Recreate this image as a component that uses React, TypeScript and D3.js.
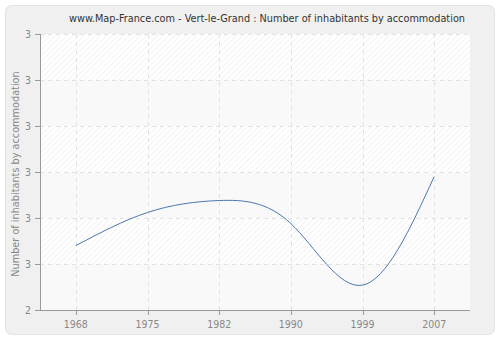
import React from "react";
import * as d3 from "d3";

const TITLE = "www.Map-France.com - Vert-le-Grand : Number of inhabitants by accommodation";
const Y_TITLE = "Number of inhabitants by accommodation";
const years = ["1968", "1975", "1982", "1990", "1999", "2007"];
const values = [2.54, 2.612, 2.638, 2.588, 2.454, 2.69];
const yTicks = [2.4, 2.5, 2.6, 2.7, 2.8, 2.9, 3.0];
const yTickLabels = ["2", "3", "3", "3", "3", "3", "3"];

const W = 500, H = 340;
const L = 40, R = 470, T = 34, B = 310;

export default function App() {
  const x = d3.scalePoint<string>().domain(years).range([L, R]).padding(0.5);
  const y = d3.scaleLinear().domain([2.4, 3.0]).range([B, T]);
  const line = d3
    .line<number>()
    .x((_, i) => x(years[i]) as number)
    .y((d) => y(d))
    .curve(d3.curveNatural);
  const font = "'DejaVu Sans Condensed', 'DejaVu Sans', sans-serif";
  return (
    <svg width={W} height={H} style={{ position: "absolute", left: 0, top: 0 }}>
      <defs>
        <pattern id="hatch" patternUnits="userSpaceOnUse" width="4" height="4" patternTransform="rotate(45)">
          <line x1="0" y1="0" x2="0" y2="4" stroke="#ebebeb" strokeWidth="1.2" />
        </pattern>
      </defs>
      <rect x={0} y={0} width={W} height={H} fill="#fff" />
      <rect x={5.5} y={5.5} width={489} height={329} rx={6} fill="#f0f0f0" stroke="#e2e2e2" />
      <text x={267} y={22} textAnchor="middle" fontFamily={font} fontSize={10.8} fill="#333">
        {TITLE}
      </text>
      <rect x={L} y={T} width={R - L} height={B - T} fill="#fff" />
      <rect x={L} y={T} width={R - L} height={B - T} fill="url(#hatch)" />
      {yTicks.slice(0, -1).map((t, i) =>
        i % 2 === 0 ? (
          <rect
            key={"band" + i}
            x={L}
            y={y(yTicks[i + 1])}
            width={R - L}
            height={y(t) - y(yTicks[i + 1])}
            fill="#f8f8f8"
            fillOpacity={0.85}
          />
        ) : null
      )}
      {yTicks.map((t, i) => (
        <line key={"gy" + i} x1={L} x2={R} y1={Math.round(y(t)) + 0.5} y2={Math.round(y(t)) + 0.5} stroke="#e2e2e2" strokeDasharray="4,4" />
      ))}
      {years.map((yr) => (
        <line key={"gx" + yr} x1={Math.round(x(yr) as number) + 0.5} x2={Math.round(x(yr) as number) + 0.5} y1={T} y2={B} stroke="#e2e2e2" strokeDasharray="4,4" />
      ))}
      <path d={line(values) || ""} fill="none" stroke="#4a78b0" strokeWidth={1} />
      <line x1={L + 0.5} x2={L + 0.5} y1={T} y2={B} stroke="#999" />
      <line x1={L} x2={R} y1={B + 0.5} y2={B + 0.5} stroke="#999" />
      {yTicks.map((t, i) => (
        <g key={"yt" + i}>
          <line x1={L - 5} x2={L} y1={Math.round(y(t)) + 0.5} y2={Math.round(y(t)) + 0.5} stroke="#999" />
          <text x={L - 9} y={y(t) + 4} textAnchor="end" fontFamily={font} fontSize={10.5} fill="#888">
            {yTickLabels[i]}
          </text>
        </g>
      ))}
      {years.map((yr) => (
        <g key={"xt" + yr}>
          <line x1={Math.round(x(yr) as number) + 0.5} x2={Math.round(x(yr) as number) + 0.5} y1={B} y2={B + 5} stroke="#999" />
          <text x={x(yr) as number} y={B + 18} textAnchor="middle" fontFamily={font} fontSize={10.5} fill="#888">
            {yr}
          </text>
        </g>
      ))}
      <text
        transform={`translate(18.5,${(T + B) / 2 + 2}) rotate(-90)`}
        textAnchor="middle"
        fontFamily={font}
        fontSize={10.8}
        fill="#888"
      >
        {Y_TITLE}
      </text>
    </svg>
  );
}
